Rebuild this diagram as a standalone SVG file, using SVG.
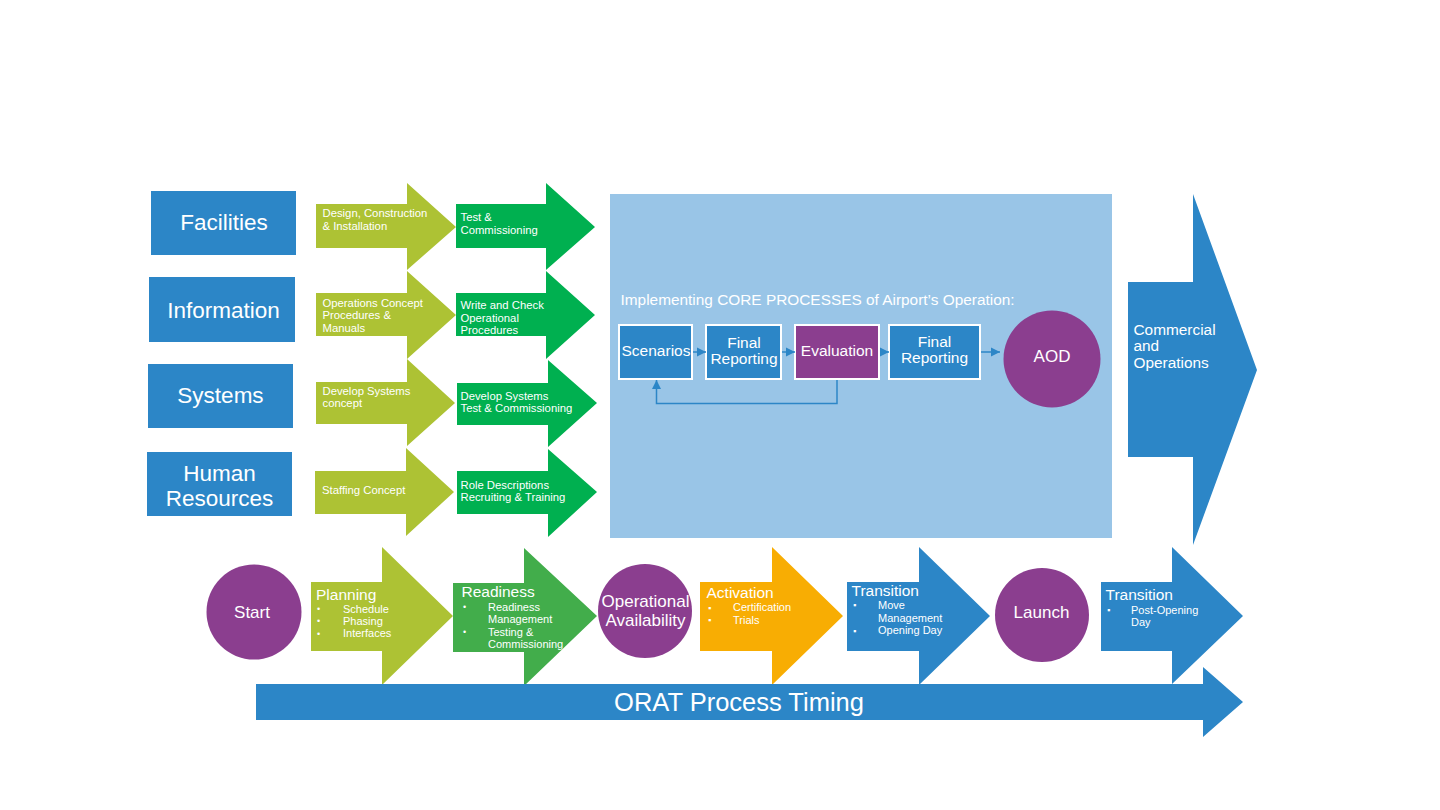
<svg xmlns="http://www.w3.org/2000/svg" width="1440" height="810" viewBox="0 0 1440 810">
<defs>
<style>
text{font-family:"Liberation Sans",Arial,sans-serif;fill:#fff}
.blue{fill:#2C86C7}
.yg{fill:#ADC234}
.gr{fill:#00B050}
.gr2{fill:#42AD4B}
.or{fill:#F8AD03}
.pu{fill:#8B3E8F}
.cat{font-size:22.5px;text-anchor:middle}
.at{font-size:11.3px}
.bt{font-size:15.5px}
.bl{font-size:11px}
.bu{font-size:9px}
.ct{font-size:17px;text-anchor:middle}
.cb{stroke:#fff;stroke-width:2}
.cbt{font-size:15.5px;text-anchor:middle}
.conn{stroke:#2C86C7;stroke-width:1.5;fill:none}
</style>
<marker id="ah" viewBox="0 0 10 10" refX="10" refY="5" markerWidth="9" markerHeight="10" markerUnits="userSpaceOnUse" orient="auto">
<path d="M0,0 L10,5 L0,10 z" fill="#2C86C7"/>
</marker>
</defs>
<rect width="1440" height="810" fill="#fff"/>

<g id="facilities"><rect class="blue" x="151" y="191" width="145" height="64"/><text class="cat" x="224" y="230">Facilities</text></g>
<g id="information"><rect class="blue" x="149" y="277" width="146" height="65"/><text class="cat" x="223.5" y="318">Information</text></g>
<g id="systems"><rect class="blue" x="148" y="364" width="145" height="64"/><text class="cat" x="220.5" y="402.5">Systems</text></g>
<g id="human-resources"><rect class="blue" x="147" y="452" width="145" height="64"/><text class="cat" x="219.5" y="481" font-size="22px">Human</text><text class="cat" x="219.5" y="505.5" font-size="22px">Resources</text></g>

<g id="design-construction"><path class="yg" d="M316,204 H407 V183 L456,227 L407,270 V248 H316 Z"/><text class="at" x="322.5" y="217">Design, Construction</text><text class="at" x="322.5" y="229.5">&amp; Installation</text></g>
<g id="test-commissioning"><path class="gr" d="M456,204 H546 V183 L595,227 L546,270 V248 H456 Z"/><text class="at" x="460.5" y="220.5">Test &amp;</text><text class="at" x="460.5" y="233.5">Commissioning</text></g>

<g id="operations-concept"><path class="yg" d="M316,293 H407 V271 L456,315 L407,359 V336 H316 Z"/><text class="at" x="322.5" y="306.5">Operations Concept</text><text class="at" x="322.5" y="319">Procedures &amp;</text><text class="at" x="322.5" y="331.5">Manuals</text></g>
<g id="write-check"><path class="gr" d="M456,293 H546 V271 L595,315 L546,359 V336 H456 Z"/><text class="at" x="460.5" y="309">Write and Check</text><text class="at" x="460.5" y="321.5">Operational</text><text class="at" x="460.5" y="334">Procedures</text></g>

<g id="develop-systems-concept"><path class="yg" d="M316,382 H407 V359 L455,403 L407,446 V424 H316 Z"/><text class="at" x="322.5" y="394.5">Develop Systems</text><text class="at" x="322.5" y="407">concept</text></g>
<g id="develop-systems-test"><path class="gr" d="M457,383 H548 V360 L597,403 L548,447 V425 H457 Z"/><text class="at" x="460.5" y="399.5">Develop Systems</text><text class="at" x="460.5" y="412">Test &amp; Commissioning</text></g>

<g id="staffing-concept"><path class="yg" d="M315,471 H406 V448 L454,492 L406,536 V514 H315 Z"/><text class="at" x="322" y="493.5">Staffing Concept</text></g>
<g id="role-descriptions"><path class="gr" d="M457,471 H548 V449 L597,492 L548,537 V514 H457 Z"/><text class="at" x="460.5" y="488.5">Role Descriptions</text><text class="at" x="460.5" y="501">Recruiting &amp; Training</text></g>

<g id="core-processes">
<rect x="610" y="194" width="502" height="344" fill="#99C5E7"/>
<text x="620.5" y="305" font-size="15.4px">Implementing CORE PROCESSES of Airport’s Operation:</text>
</g>
<g id="scenarios"><rect class="blue cb" x="619" y="325" width="73" height="54"/><text class="cbt" x="656" y="356">Scenarios</text></g>
<g id="final-reporting-1"><rect class="blue cb" x="706" y="325" width="75" height="54"/><text class="cbt" x="744" y="348">Final</text><text class="cbt" x="744" y="363.5">Reporting</text></g>
<g id="evaluation"><rect class="pu cb" x="795" y="325" width="84" height="54"/><text class="cbt" x="837" y="356">Evaluation</text></g>
<g id="final-reporting-2"><rect class="blue cb" x="889" y="325" width="91" height="54"/><text class="cbt" x="934.5" y="347">Final</text><text class="cbt" x="934.5" y="363">Reporting</text></g>
<g id="aod"><circle class="pu" cx="1052" cy="359" r="48.5"/><text class="ct" x="1052" y="362">AOD</text></g>

<g id="commercial-operations"><path class="blue" d="M1128,282 H1193 V194 L1257,370 L1193,545 V457 H1128 Z"/><text x="1133.5" y="334.5" font-size="15.4px">Commercial</text><text x="1133.5" y="351" font-size="15.4px">and</text><text x="1133.5" y="367.5" font-size="15.4px">Operations</text></g>

<g id="start"><circle class="pu" cx="254" cy="612" r="47.5"/><text class="ct" x="252" y="617.5">Start</text></g>
<g id="planning"><path class="yg" d="M311,582 H382 V547 L453,616 L382,685 V651 H311 Z"/><text class="bt" x="316" y="600">Planning</text>
<text class="bu" x="317" y="612">•</text><text class="bl" x="343" y="612.5">Schedule</text>
<text class="bu" x="317" y="624">•</text><text class="bl" x="343" y="624.5">Phasing</text>
<text class="bu" x="317" y="636.5">•</text><text class="bl" x="343" y="637">Interfaces</text></g>
<g id="readiness"><path class="gr2" d="M453,583 H524 V548 L597,616 L524,686 V652 H453 Z"/><text class="bt" x="461.5" y="597">Readiness</text>
<text class="bu" x="463" y="610">•</text><text class="bl" x="488" y="610.5">Readiness</text>
<text class="bl" x="488" y="623">Management</text>
<text class="bu" x="463" y="635">•</text><text class="bl" x="488" y="635.5">Testing &amp;</text>
<text class="bl" x="488" y="648">Commissioning</text></g>
<g id="operational-availability"><circle class="pu" cx="645" cy="611" r="47"/><text class="ct" x="645.5" y="607">Operational</text><text class="ct" x="645.5" y="626">Availability</text></g>
<g id="activation"><path class="or" d="M700,582 H772 V547 L843,616 L772,685 V651 H700 Z"/><text class="bt" x="706.5" y="597.5">Activation</text>
<text class="bu" x="708" y="610.5">▪</text><text class="bl" x="733" y="611">Certification</text>
<text class="bu" x="708" y="623">▪</text><text class="bl" x="733" y="623.5">Trials</text></g>
<g id="transition-1"><path class="blue" d="M847,582 H919 V547 L990,616 L919,685 V651 H847 Z"/><text class="bt" x="851.5" y="595.5">Transition</text>
<text class="bu" x="853" y="608">▪</text><text class="bl" x="878" y="608.5">Move</text>
<text class="bl" x="878" y="621.5">Management</text>
<text class="bu" x="853" y="633.5">▪</text><text class="bl" x="878" y="634">Opening Day</text></g>
<g id="launch"><circle class="pu" cx="1042" cy="615" r="47"/><text class="ct" x="1041.5" y="618">Launch</text></g>
<g id="transition-2"><path class="blue" d="M1101,582 H1172 V547 L1243,616 L1172,684 V651 H1101 Z"/><text class="bt" x="1105.5" y="600">Transition</text>
<text class="bu" x="1107" y="613">▪</text><text class="bl" x="1131" y="613.5">Post-Opening</text>
<text class="bl" x="1131" y="626">Day</text></g>

<g id="orat-timing"><path class="blue" d="M256,684 H1203 V667 L1243,702 L1203,737 V720 H256 Z"/><text x="739" y="710.5" font-size="25.5px" text-anchor="middle">ORAT Process Timing</text></g>

<g id="connectors">
<line class="conn" x1="693" y1="352" x2="706" y2="352" marker-end="url(#ah)"/>
<line class="conn" x1="782" y1="352" x2="795" y2="352" marker-end="url(#ah)"/>
<line class="conn" x1="880" y1="352" x2="889" y2="352" marker-end="url(#ah)"/>
<line class="conn" x1="981" y1="352" x2="1000" y2="352" marker-end="url(#ah)"/>
<polyline class="conn" points="837,380 837,403.5 656.5,403.5 656.5,380" marker-end="url(#ah)"/>
</g>
</svg>
